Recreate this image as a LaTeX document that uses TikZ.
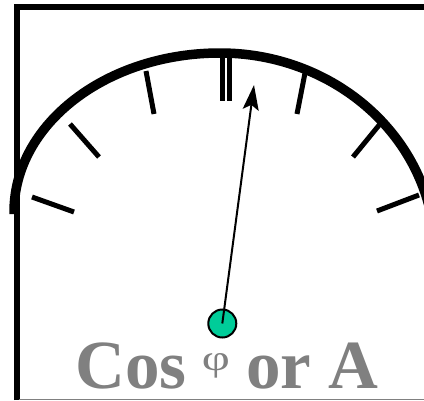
\documentclass[tikz,border=0pt]{standalone}
\usepackage{fontspec}
\setmainfont{Liberation Serif}
\usetikzlibrary{arrows.meta}
\definecolor{hubgreen}{RGB}{0,204,153}
\definecolor{txtgray}{RGB}{128,128,128}
\tikzset{
  frameline/.style={line width=5.5pt, line cap=butt},
  dialarc/.style={line width=9.5pt, line cap=butt},
  tickmark/.style={line width=5pt, line cap=butt},
  needle/.style={line width=2pt, -{Stealth[length=25pt,width=16pt,inset=5pt]}},
  hubstyle/.style={circle, draw=black, line width=2pt, fill=hubgreen, minimum size=28pt, inner sep=0pt},
  bigtxt/.style={anchor=base west, inner sep=0pt, text=txtgray, font=\fontsize{69}{70}\selectfont\bfseries},
  phitxt/.style={anchor=base, inner sep=0pt, text=txtgray, font=\fontsize{36}{36}\selectfont}
}
\begin{document}
\begin{tikzpicture}[x=1pt,y=-1pt]
\useasboundingbox (0,0) rectangle (424,400);
\fill[white] (0,0) rectangle (424,400);
% frame
\draw[frameline] (16.75,400) -- (16.75,6.75) -- (430,6.75);
\draw[txtgray, line width=1.2pt] (19,399.4) -- (430,399.4);
% dial arc: left and right quarters
\draw[dialarc] (14,214) -- (14,212) arc[start angle=180, end angle=270, x radius=206, y radius=159]
  arc[start angle=270, end angle=350, x radius=215, y radius=200];
% ticks
\draw[tickmark] (32,197) -- (74,212);
\draw[tickmark] (70,124) -- (99,157);
\draw[tickmark] (146,71) -- (154,114);
\draw[tickmark] (222,57) -- (222,101);
\draw[tickmark] (229.5,57) -- (229.5,101);
\draw[tickmark] (305,73) -- (297,114);
\draw[tickmark] (380,124) -- (353,157);
\draw[tickmark] (419,195) -- (377,211);
% needle and hub
\node[hubstyle] (hub) at (222.3,323.5) {};
\coordinate (tip) at (254,85);
\draw[needle] (hub.center) -- (tip);
% label
\node[bigtxt] (cos) at (75,388) {Cos};
\node[phitxt] (phi) at (216,370) {\scalebox{1.35}[1]{φ}};
\node[bigtxt] (ora) at (246,388) {or A};
\end{tikzpicture}
\end{document}
